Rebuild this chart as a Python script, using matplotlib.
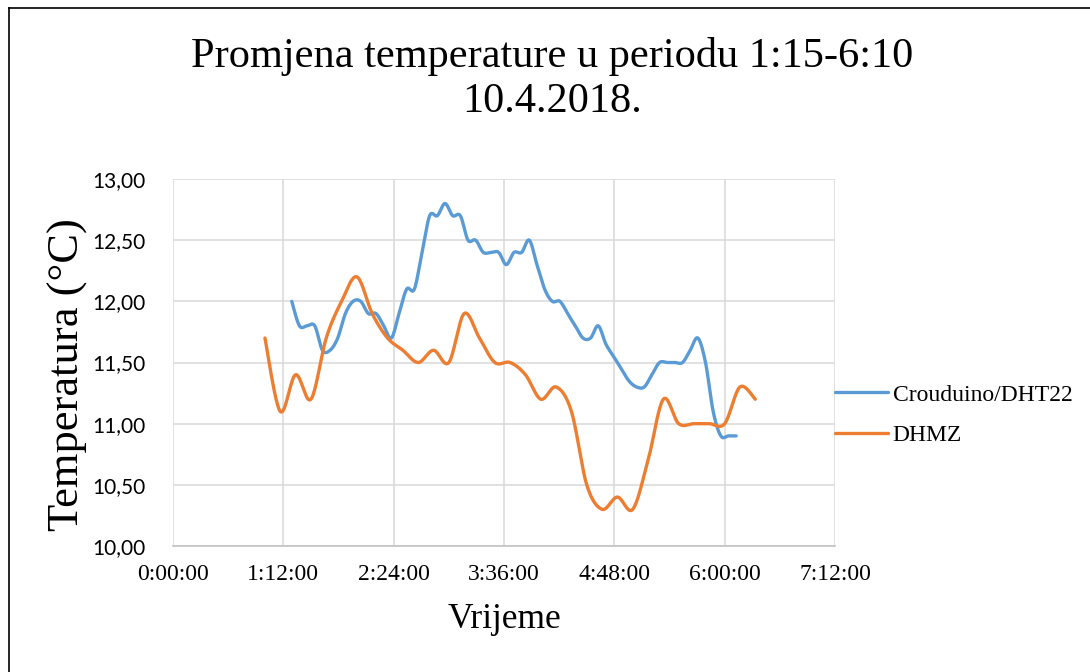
import numpy as np
import matplotlib
matplotlib.use("Agg")
import matplotlib.pyplot as plt
from matplotlib.lines import Line2D
from matplotlib.ticker import FuncFormatter

# Crouduino/DHT22, every 5 min (minutes after midnight)
dht_start = 77.5
dht_step = 5
dht_temp = [12.0, 11.8, 11.8, 11.8, 11.6, 11.6, 11.7, 11.9, 12.0, 12.0,
            11.9, 11.9, 11.8, 11.7, 11.9, 12.1, 12.1, 12.4, 12.7, 12.7,
            12.8, 12.7, 12.7, 12.5, 12.5, 12.4, 12.4, 12.4, 12.3, 12.4,
            12.4, 12.5, 12.3, 12.1, 12.0, 12.0, 11.9, 11.8, 11.7, 11.7,
            11.8, 11.65, 11.55, 11.45, 11.35, 11.3, 11.3, 11.4, 11.5, 11.5,
            11.5, 11.5, 11.6, 11.7, 11.5, 11.1, 10.9, 10.9, 10.9]

# DHMZ, every 10 min
dhmz_start = 60
dhmz_step = 10
dhmz_temp = [11.7, 11.1, 11.4, 11.2, 11.7, 12.0, 12.2, 11.9, 11.7, 11.6,
             11.5, 11.6, 11.5, 11.9, 11.7, 11.5, 11.5, 11.4, 11.2, 11.3,
             11.1, 10.5, 10.3, 10.4, 10.3, 10.7, 11.2, 11.0, 11.0, 11.0,
             11.0, 11.3, 11.2]

series_names = ["Crouduino/DHT22", "DHMZ"]
x_ticks_min = [0, 72, 144, 216, 288, 360, 432]
y_ticks = [10.0, 10.5, 11.0, 11.5, 12.0, 12.5, 13.0]

BLUE = "#5B9BD5"
ORANGE = "#ED7D31"


def smooth(x, y, n=20):
    # excel-like smoothed line (bezier through the points)
    x = np.asarray(x, float)
    y = np.asarray(y, float)
    px = np.concatenate([[x[0]], x, [x[-1]]])
    py = np.concatenate([[y[0]], y, [y[-1]]])
    t = np.linspace(0, 1, n, endpoint=False)[:, None]
    xs, ys = [], []
    for i in range(1, len(px) - 2):
        p0 = np.array([px[i], py[i]])
        p3 = np.array([px[i + 1], py[i + 1]])
        c1 = p0 + (np.array([px[i + 1], py[i + 1]]) - np.array([px[i - 1], py[i - 1]])) / 6
        c2 = p3 - (np.array([px[i + 2], py[i + 2]]) - np.array([px[i], py[i]])) / 6
        b = ((1 - t) ** 3) * p0 + 3 * ((1 - t) ** 2) * t * c1 + 3 * (1 - t) * t ** 2 * c2 + t ** 3 * p3
        xs.append(b[:, 0])
        ys.append(b[:, 1])
    xs.append([x[-1]])
    ys.append([y[-1]])
    return np.concatenate(xs), np.concatenate(ys)


dht_time = dht_start + dht_step * np.arange(len(dht_temp))
dhmz_time = dhmz_start + dhmz_step * np.arange(len(dhmz_temp))

W, H = 1090, 672
fig = plt.figure(figsize=(W / 100, H / 100), dpi=100)
ax = fig.add_axes([173 / W, 1 - 546 / H, (835 - 173) / W, (546 - 179) / H])

sx, sy = smooth(dht_time, dht_temp)
ax.plot(sx, sy, color=BLUE, lw=2.4, solid_capstyle="round", label=series_names[0])
sx, sy = smooth(dhmz_time, dhmz_temp)
ax.plot(sx, sy, color=ORANGE, lw=2.4, solid_capstyle="round", label=series_names[1])

ax.set_xlim(0, 432)
ax.set_ylim(10, 13)
ax.set_xticks(x_ticks_min)
ax.set_yticks(y_ticks)
ax.xaxis.set_major_formatter(FuncFormatter(lambda v, p: f"{int(v) // 60}:{int(v) % 60:02d}:00"))
ax.yaxis.set_major_formatter(FuncFormatter(lambda v, p: f"{v:.2f}".replace(".", ",")))
ax.grid(True, color="#d9d9d9", lw=1.1)
ax.set_axisbelow(True)
for s in ["top", "right", "left"]:
    ax.spines[s].set_visible(False)
ax.spines["bottom"].set_color("#bfbfbf")
ax.spines["bottom"].set_linewidth(1.1)
ax.tick_params(length=0)
ax.tick_params(axis="x", pad=13)
ax.tick_params(axis="y", pad=20)
for lab in ax.get_xticklabels():
    lab.set_fontfamily("Liberation Serif")
    lab.set_fontsize(17)
for lab in ax.get_yticklabels():
    lab.set_fontfamily("Lato")
    lab.set_fontsize(15)

fig.text(552 / W, 1 - 79 / H, "Promjena temperature u periodu 1:15-6:10\n10.4.2018.",
         ha="center", va="center", fontsize=30.5, family="Liberation Serif", linespacing=1.25)
fig.text(68 / W, 1 - 375 / H, "Temperatura (°C)", rotation=90, ha="center", va="center",
         fontsize=32, family="Liberation Serif")
fig.text(504 / W, 1 - 619 / H, "Vrijeme", ha="center", va="center",
         fontsize=25.5, family="Liberation Serif")

fig.legend(loc="center left", bbox_to_anchor=(835 / W, 1 - 415 / H), frameon=False,
           borderpad=0, borderaxespad=0, handlelength=2.25, handletextpad=0.2,
           labelspacing=0.8, prop={"family": "Liberation Serif", "size": 17})

# chart border
fig.add_artist(Line2D([9 / W, 1.0], [1 - 7.5 / H, 1 - 7.5 / H], color="black", lw=1.2))
fig.add_artist(Line2D([9 / W, 9 / W], [1 - 7.5 / H, 0.0], color="black", lw=1.2))

fig.savefig("out.png", dpi=100)
